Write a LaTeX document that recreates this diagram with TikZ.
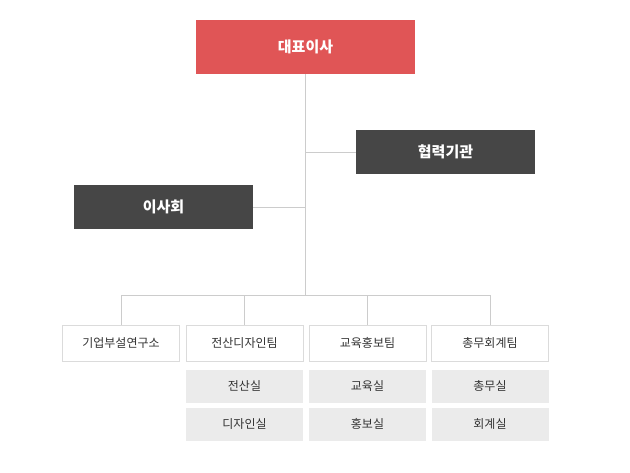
\documentclass[tikz,border=0pt]{standalone}
\usepackage{fontspec}
\setmainfont{Noto Sans CJK KR}
\usetikzlibrary{positioning}
\definecolor{ceored}{HTML}{E05556}
\definecolor{darkbox}{HTML}{464646}
\definecolor{subgray}{HTML}{EBEBEB}
\definecolor{linegray}{HTML}{CCCCCC}
\tikzset{
  topbox/.style={fill=ceored,text=white,minimum width=219pt,minimum height=54pt,font=\fontsize{15pt}{17pt}\selectfont\bfseries,inner sep=0pt},
  sidebox/.style={fill=darkbox,text=white,minimum width=179pt,minimum height=44pt,font=\fontsize{15pt}{17pt}\selectfont\bfseries,inner sep=0pt},
  teambox/.style={draw=linegray!70,fill=white,minimum width=117pt,minimum height=36pt,font=\fontsize{12pt}{14pt}\selectfont,text=black!80,inner sep=0pt},
  subbox/.style={fill=subgray,minimum width=117pt,minimum height=33pt,font=\fontsize{12pt}{14pt}\selectfont,text=black!80,inner sep=0pt},
  link/.style={draw=linegray,line width=1pt}
}
\begin{document}
\begin{tikzpicture}[x=1pt,y=-1pt]
\useasboundingbox[fill=white] (0,0) rectangle (630,472);
% head
\node[topbox] (ceo) at (305.5,47) {대표이사};
\node[sidebox] (partner) at (445.5,152) {협력기관};
\node[sidebox] (board) at (163.5,207) {이사회};
% teams
\node[teambox] (lab) at (121,343) {기업부설연구소};
\node[teambox] (design) at (244.5,343) {전산디자인팀};
\node[teambox] (edu) at (367.5,343) {교육홍보팀};
\node[teambox] (admin) at (490,343) {총무회계팀};
% sub units
\node[subbox] (comp) at (244.5,386) {전산실};
\node[subbox] (dsgn) at (244.5,424) {디자인실};
\node[subbox] (edur) at (367.5,386) {교육실};
\node[subbox] (pr) at (367.5,424) {홍보실};
\node[subbox] (gen) at (490,386) {총무실};
\node[subbox] (acc) at (490,424) {회계실};
% lines
\coordinate (hub) at (305.5,295);
\draw[link] (ceo.south) -- (hub);
\draw[link] (305.5,152) -- (partner.west);
\draw[link] (305.5,207) -- (board.east);
\draw[link] (lab.north |- hub) -- (admin.north |- hub);
\foreach \t in {lab,design,edu,admin}
  \draw[link] (\t.north |- hub) -- (\t.north);
\end{tikzpicture}
\end{document}
